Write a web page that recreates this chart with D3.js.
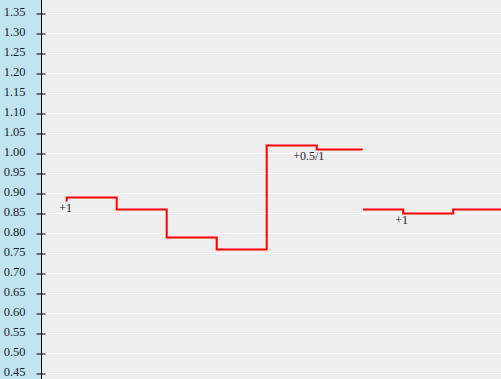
<!DOCTYPE html>
<html>
<head>
<meta charset="utf-8">
<script src="https://cdn.jsdelivr.net/npm/d3@7"></script>
<style>
  html, body { margin: 0; padding: 0; background: #eeeeee; overflow: hidden; }
  svg { display: block; }
</style>
</head>
<body>
<svg id="chart" width="501" height="379"></svg>
<script>
// tick values on the value axis
const tickValues = [1.35, 1.30, 1.25, 1.20, 1.15, 1.10, 1.05, 1.00, 0.95, 0.90,
  0.85, 0.80, 0.75, 0.70, 0.65, 0.60, 0.55, 0.50, 0.45];

// first run of the step line (x in periods, y = value)
const run1X = [0, 0, 1, 2, 3, 4, 5, 5.92];
const run1Y = [0.88, 0.89, 0.86, 0.79, 0.76, 1.02, 1.01, 1.01];

// second run after the break
const run2X = [5.93, 6.73, 7.73, 8.8];
const run2Y = [0.86, 0.85, 0.86, 0.86];

// event labels
const noteX = [-0.02, 4.84, 6.7];
const noteY = [0.88, 1.01, 0.85];
const noteText = ["+1", "+0.5/1", "+1"];

const W = 501, H = 379;
const axisX = 41.5;

const svg = d3.select("#chart");

// left panel behind the axis labels
svg.append("rect")
  .attr("x", 0).attr("y", 0)
  .attr("width", axisX).attr("height", H)
  .style("fill", "#c0e5ef");

// plot background
svg.append("rect")
  .attr("x", axisX).attr("y", 0)
  .attr("width", W - axisX).attr("height", H)
  .style("fill", "#eeeeee");

const y = d3.scaleLinear()
  .domain([0.45, 1.35])
  .range([373.5, 13.5]);

const x = d3.scaleLinear()
  .domain([0, 8.7])
  .range([66.7, 501.7]);

// gridlines
svg.append("g")
  .selectAll("line")
  .data(tickValues)
  .join("line")
  .attr("x1", 45)
  .attr("x2", W)
  .attr("y1", d => y(d))
  .attr("y2", d => y(d))
  .style("stroke", "#ffffff")
  .style("stroke-width", 1);

// value axis
const axis = svg.append("g")
  .attr("transform", `translate(${axisX},0)`)
  .call(d3.axisLeft(y)
    .tickValues(tickValues)
    .tickFormat(d3.format(".2f"))
    .tickSizeInner(5)
    .tickSizeOuter(0)
    .tickPadding(0));

axis.select(".domain").remove();
axis.append("line")
  .attr("x1", 0).attr("x2", 0)
  .attr("y1", 0).attr("y2", H)
  .style("stroke", "#000")
  .style("stroke-width", 1);

axis.selectAll(".tick line")
  .attr("x1", -5)
  .attr("x2", 4)
  .style("stroke", "#000");

axis.selectAll(".tick text")
  .attr("x", -16)
  .attr("dy", "0.12em")
  .style("font-family", "'Liberation Serif', 'Times New Roman', serif")
  .style("font-size", "12.5px")
  .style("fill", "#1a1a2e");

// step line
const line = d3.line()
  .x(d => x(d[0]))
  .y(d => y(d[1]))
  .curve(d3.curveStepAfter);

const runs = [d3.zip(run1X, run1Y), d3.zip(run2X, run2Y)];

svg.append("g")
  .selectAll("path")
  .data(runs)
  .join("path")
  .attr("d", line)
  .style("fill", "none")
  .style("stroke", "#ff0000")
  .style("stroke-width", 2);

// event labels
svg.append("g")
  .selectAll("text")
  .data(d3.zip(noteX, noteY, noteText))
  .join("text")
  .attr("x", d => x(d[0]))
  .attr("y", d => y(d[1]) + 10.5)
  .attr("text-anchor", "middle")
  .style("font-family", "'Liberation Serif', 'Times New Roman', serif")
  .style("font-size", "12px")
  .style("fill", "#222")
  .text(d => d[2]);
</script>
</body>
</html>
